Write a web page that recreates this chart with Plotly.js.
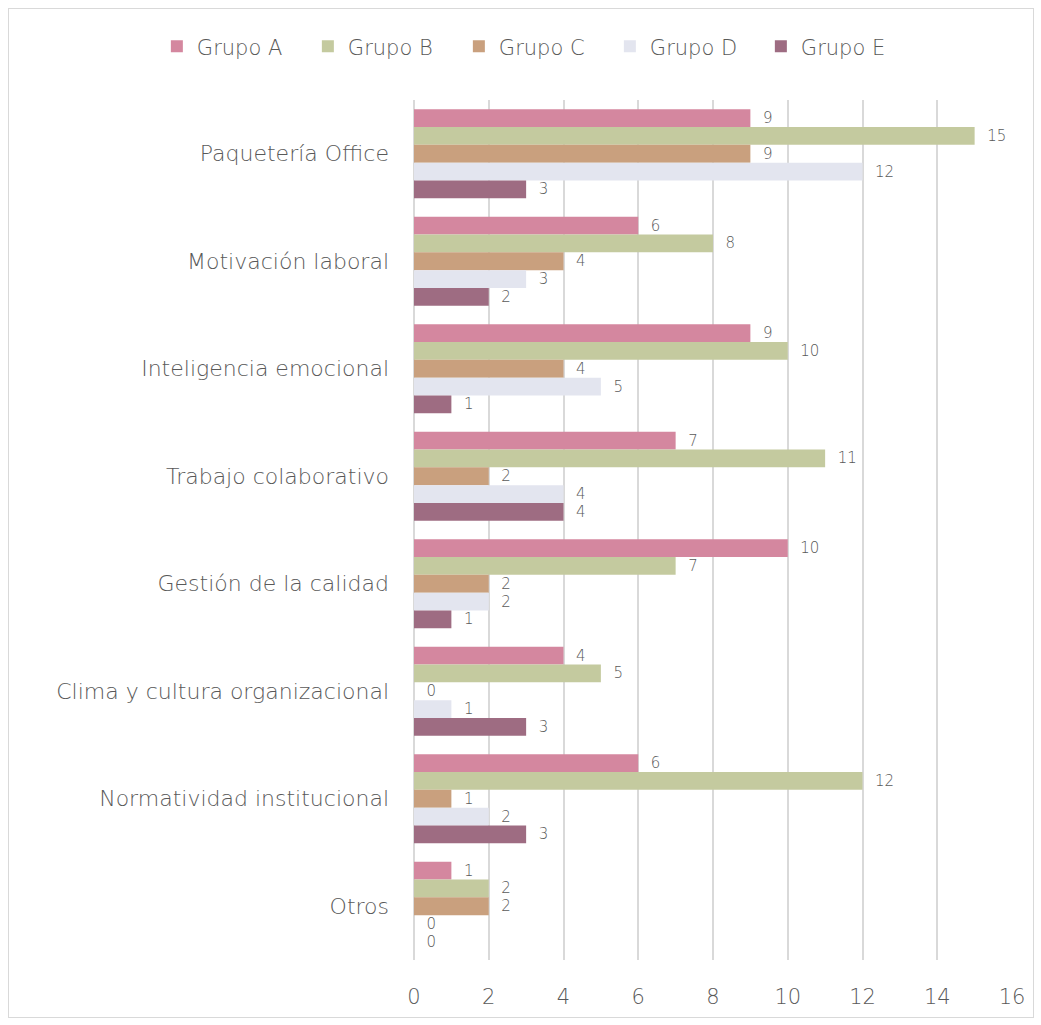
<!DOCTYPE html>
<html><head><meta charset="utf-8">
<script src="https://cdn.plot.ly/plotly-3.0.1.min.js"></script>
<style>
html,body{margin:0;padding:0;background:#fff;}
#wrap{position:relative;width:1041px;height:1025px;}
#chart{width:1041px;height:1025px;}
#frame{position:absolute;left:8px;top:8px;width:1024px;height:1008px;border:1px solid #d9d9d9;pointer-events:none;}
</style></head>
<body>
<div id="wrap"><div id="chart"></div><div id="frame"></div></div>
<script>
const categories = ["Paquetería Office","Motivación laboral","Inteligencia emocional","Trabajo colaborativo","Gestión de la calidad","Clima y cultura organizacional","Normatividad institucional","Otros"];
const seriesNames = ["Grupo A","Grupo B","Grupo C","Grupo D","Grupo E"];
const grupoA = [9,6,9,7,10,4,6,1];
const grupoB = [15,8,10,11,7,5,12,2];
const grupoC = [9,4,4,2,2,0,1,2];
const grupoD = [12,3,5,4,2,1,2,0];
const grupoE = [3,2,1,4,1,3,3,0];
const xTicks = [0,2,4,6,8,10,12,14,16];

const colors = ["#d4879f","#c4ca9f","#c9a07e","#e3e5ef","#9e6c82"];
const values = [grupoA,grupoB,grupoC,grupoD,grupoE];
const FONT = "'DejaVu Sans', sans-serif";
const TXT = '#595959';

const traces = values.map((v,i)=>({
  type:'bar', orientation:'h', name:seriesNames[i],
  x:v, y:categories,
  marker:{color:colors[i], line:{width:0}},
  texttemplate:'\u00a0\u00a0%{x}', textposition:'outside', cliponaxis:false, constraintext:'none',
  outsidetextfont:{family:FONT, size:15, color:TXT, weight:200},
  textfont:{family:FONT, size:15, color:TXT, weight:200},
  hoverinfo:'x+y'
}));

const layout = {
  width:1041, height:1025,
  paper_bgcolor:'#fff', plot_bgcolor:'#fff',
  margin:{l:414, r:29, t:100, b:65, autoexpand:false},
  barmode:'group', bargap:0.17, bargroupgap:0,
  showlegend:true,
  legend:{orientation:'h', x:-0.43, xref:'paper', xanchor:'left', y:1.062, yref:'paper', yanchor:'middle',
          font:{family:FONT, size:21, color:TXT, weight:200}, tracegroupgap:0,
          entrywidth:106, entrywidthmode:'pixels',
          traceorder:'normal'},
  xaxis:{range:[0,16], tickvals:xTicks, ticktext:xTicks.map(String),
         showgrid:true, gridcolor:'#d9d9d9', gridwidth:2, zeroline:true, zerolinecolor:'#d9d9d9', zerolinewidth:2,
         showline:false, ticks:'', ticklabelstandoff:22,
         tickfont:{family:FONT, size:21, color:TXT, weight:200}, fixedrange:true},
  yaxis:{type:'category', autorange:'reversed', showgrid:false, zeroline:false, showline:false,
         ticks:'', ticklabelstandoff:24,
         tickfont:{family:FONT, size:22, color:TXT, weight:200}, fixedrange:true},
  font:{family:FONT, color:TXT}
};
Plotly.newPlot('chart', traces, layout, {displayModeBar:false, staticPlot:true});
</script>
</body></html>
